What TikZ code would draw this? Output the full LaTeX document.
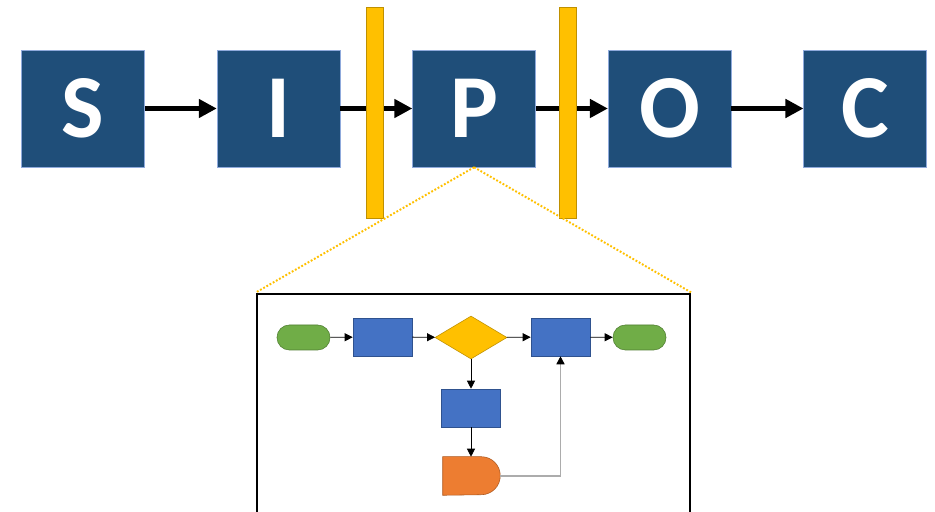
\documentclass[tikz,border=0pt]{standalone}
\usepackage{fontspec}
\setsansfont{Carlito}
\usepackage{tikz}
\usetikzlibrary{shapes.geometric, arrows.meta, positioning, calc}

\definecolor{sipocnavy}{HTML}{1F4E79}
\definecolor{sipocedge}{HTML}{8FAADC}
\definecolor{gateyellow}{HTML}{FFC000}
\definecolor{gateedge}{HTML}{BF9000}
\definecolor{procblue}{HTML}{4472C4}
\definecolor{procedge}{HTML}{2F528F}
\definecolor{termgreen}{HTML}{70AD47}
\definecolor{termedge}{HTML}{507E32}
\definecolor{delayorange}{HTML}{ED7D31}
\definecolor{delayedge}{HTML}{AE5A21}

\tikzset{
  stepbox/.style={
    draw=sipocedge, line width=0.4pt, fill=sipocnavy, text=white,
    minimum width=3.075cm, minimum height=2.925cm, inner sep=0pt,
    font=\sffamily\bfseries\fontsize{64}{64}\selectfont
  },
  steparrow/.style={
    -{Triangle[length=4.5mm, width=4.5mm]}, line width=3.5pt
  },
  gatebar/.style={
    draw=gateedge, fill=gateyellow, line width=0.5pt,
    minimum width=0.43cm, minimum height=5.275cm, inner sep=0pt
  },
  zoomline/.style={
    draw=gateyellow, dash pattern=on 1.3pt off 1.3pt, line width=1.4pt
  },
  zoombox/.style={
    draw=black, line width=2pt, fill=white,
    minimum width=10.825cm, minimum height=5.5cm
  },
  termbox/.style={
    draw=termedge, fill=termgreen, rounded corners=0.31cm,
    minimum width=1.325cm, minimum height=0.625cm, inner sep=0pt
  },
  procbox/.style={
    draw=procedge, fill=procblue,
    minimum width=1.475cm, minimum height=0.95cm, inner sep=0pt
  },
  decbox/.style={
    diamond, draw=gateedge, fill=gateyellow,
    minimum width=1.8cm, minimum height=1.075cm, inner sep=0pt
  },
  flowarrow/.style={-{Triangle[length=2mm, width=2mm]}, line width=0.6pt},
  loopline/.style={
    -{Triangle[length=2mm, width=2mm, color=black]}, draw=gray!65, line width=1.1pt
  },
}

\begin{document}
\begin{tikzpicture}
  \useasboundingbox (0,0) rectangle (23.375,-12.8);

  % === SIPOC steps ===
  \node[stepbox] (s) at (2.075,-2.7125) {S};
  \node[stepbox, right=1.8cm of s] (i) {I};
  \node[stepbox, right=1.8cm of i] (p) {P};
  \node[stepbox, right=1.8cm of p] (o) {O};
  \node[stepbox, right=1.8cm of o] (c) {C};

  \draw[steparrow] (s) -- (i);
  \draw[steparrow] (i) -- (p);
  \draw[steparrow] (p) -- (o);
  \draw[steparrow] (o) -- (c);

  % === Scope bars ===
  \node[gatebar] (startbar) at (9.3625,-2.8125) {};
  \node[gatebar] (endbar) at (14.2,-2.8125) {};

  % === Process detail ===
  \node[zoombox] (detail) at (11.8375,-10.1) {};
  \draw[zoomline] (p.south) -- (detail.north west);
  \draw[zoomline] (p.south) -- (detail.north east);

  \node[termbox] (begin) at (7.5875,-8.4375) {};
  \node[procbox] (proc1) at (9.5625,-8.425) {};
  \node[decbox] (check) at (11.775,-8.4375) {};
  \node[procbox] (proc2) at (14.0125,-8.425) {};
  \node[termbox] (finish) at (15.9875,-8.4375) {};
  \node[procbox] (proc3) at (11.775,-10.2) {};

  % delay shape: flat left, round right
  \node[minimum width=1.425cm, minimum height=0.95cm, inner sep=0pt] (delay) at (11.7875,-11.9) {};
  \draw[draw=delayedge, fill=delayorange] (delay.north west)
    -- ($(delay.north east)+(-0.475,0)$) arc[start angle=90, end angle=-90, radius=0.475cm]
    -- (delay.south west) -- cycle;

  \draw[flowarrow] (begin) -- (proc1);
  \draw[flowarrow] (proc1) -- (check);
  \draw[flowarrow] (check) -- (proc2);
  \draw[flowarrow] (proc2) -- (finish);
  \draw[flowarrow] (check) -- (proc3);
  \draw[flowarrow] (proc3) -- (delay.north -| proc3);
  \draw[loopline] (delay.east) -| (proc2.south);

\end{tikzpicture}
\end{document}
